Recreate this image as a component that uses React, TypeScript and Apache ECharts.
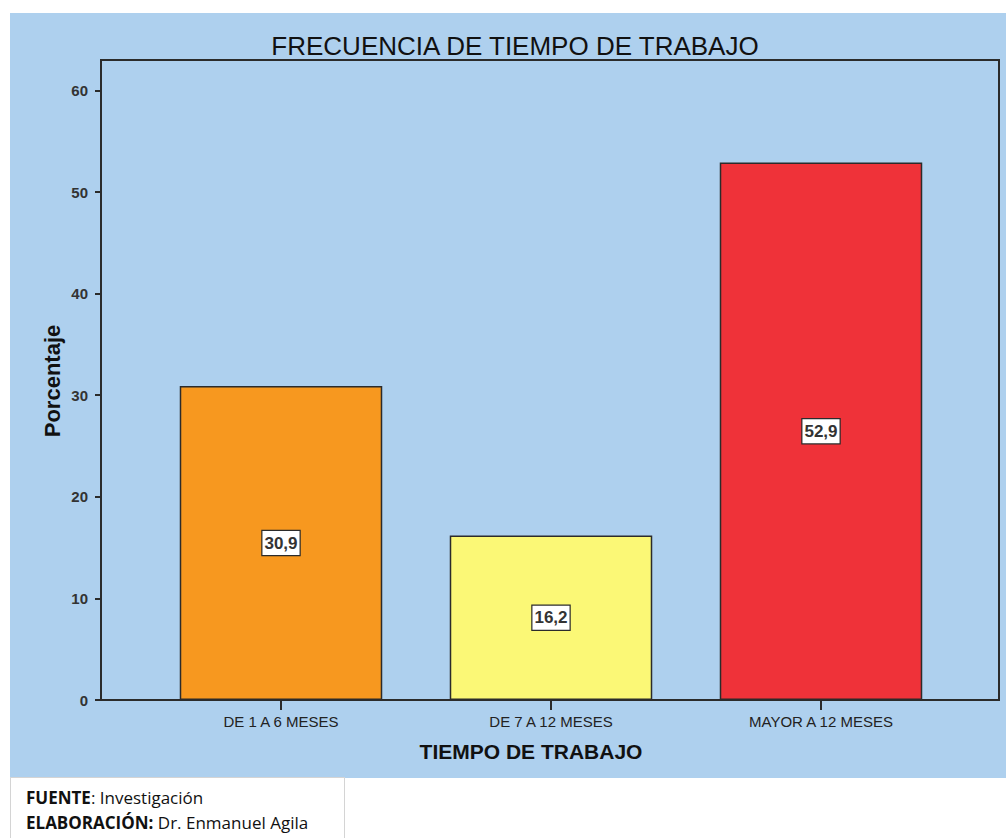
import { useEffect, useRef } from 'react';
import * as echarts from 'echarts';

const categories = ['DE 1 A 6 MESES', 'DE 7 A 12 MESES', 'MAYOR A 12 MESES'];
const percentages = [30.9, 16.2, 52.9];
const barColors = ['#F7981F', '#FBF876', '#EF3239'];
const yTicks = [0, 10, 20, 30, 40, 50, 60];
const yMax = 63;
const chartTitle = 'FRECUENCIA DE TIEMPO DE TRABAJO';
const xName = 'TIEMPO DE TRABAJO';
const yName = 'Porcentaje';
const sourceLabel = 'FUENTE';
const sourceText = 'Investigación';
const authorLabel = 'ELABORACIÓN';
const authorText = 'Dr. Enmanuel Agila';

const BG = '#AED0EE';
const DARK = '#2b2b2b';

export default function App() {
  const ref = useRef<HTMLDivElement>(null);
  useEffect(() => {
    if (!ref.current) return;
    const chart = echarts.init(ref.current, null, { renderer: 'svg' });
    const option: any = {
      animation: false,
      backgroundColor: '#ffffff',
      graphic: [
        { type: 'rect', z: -10, shape: { x: 10, y: 13, width: 996, height: 765 }, style: { fill: BG } },
        { type: 'rect', z: -10, shape: { x: 10.5, y: 777.5, width: 334, height: 70 }, style: { fill: '#ffffff', stroke: '#d4d4d4', lineWidth: 1 } },
        {
          type: 'text', z: 10, x: 515, y: 46,
          style: { text: chartTitle, font: '26px "Liberation Sans", Arial, sans-serif', fill: '#111', align: 'center', verticalAlign: 'middle' },
        },
        {
          type: 'text', z: 10, x: 531, y: 751,
          style: { text: xName, font: 'bold 21px "Liberation Sans", Arial, sans-serif', fill: '#111', align: 'center', verticalAlign: 'middle' },
        },
        {
          type: 'text', z: 10, x: 52, y: 381, rotation: Math.PI / 2,
          style: { text: yName, font: 'bold 22px "Liberation Sans", Arial, sans-serif', fill: '#111', align: 'center', verticalAlign: 'middle' },
        },
        {
          type: 'text', z: 10, x: 26, y: 797,
          style: {
            text: '{b|' + sourceLabel + '}{r|: ' + sourceText + '}',
            verticalAlign: 'middle',
            rich: {
              b: { font: 'bold 17px "Open Sans", sans-serif', fill: '#111' },
              r: { font: '17px "Open Sans", sans-serif', fill: '#111' },
            },
          },
        },
        {
          type: 'text', z: 10, x: 26, y: 822,
          style: {
            text: '{b|' + authorLabel + ':}{r| ' + authorText + '}',
            verticalAlign: 'middle',
            rich: {
              b: { font: 'bold 17px "Open Sans", sans-serif', fill: '#111' },
              r: { font: '17px "Open Sans", sans-serif', fill: '#111' },
            },
          },
        },
      ],
      grid: [
        { left: 101, top: 60, width: 898, height: 640, show: true, backgroundColor: 'transparent', borderColor: DARK, borderWidth: 2 },
        { left: 146, top: 60, width: 810, height: 640 },
      ],
      xAxis: [
        { gridIndex: 0, type: 'value', min: 0, max: 1, show: false },
        {
          gridIndex: 1, type: 'category', data: categories,
          axisLine: { show: false },
          axisTick: { show: true, alignWithLabel: true, length: 10, lineStyle: { color: DARK, width: 2 } },
          axisLabel: { color: '#222', fontSize: 15, fontFamily: '"Liberation Sans", Arial, sans-serif', margin: 14 },
        },
      ],
      yAxis: [
        {
          gridIndex: 0, type: 'value', min: 0, max: yMax,
          splitLine: { show: false },
          axisLine: { show: true, lineStyle: { color: DARK, width: 2 } },
          axisTick: { show: true, length: 6, customValues: yTicks, lineStyle: { color: DARK, width: 2 } },
          axisLabel: { customValues: yTicks, color: '#333', fontSize: 15, fontWeight: 'bold', fontFamily: '"Liberation Sans", Arial, sans-serif', margin: 13 },
        },
        { gridIndex: 1, type: 'value', min: 0, max: yMax, show: false, splitLine: { show: false } },
      ],
      series: [
        {
          type: 'bar',
          xAxisIndex: 1, yAxisIndex: 1,
          barWidth: '75%',
          data: percentages.map((v, i) => ({ value: v, itemStyle: { color: barColors[i] } })),
          itemStyle: { borderColor: DARK, borderWidth: 1.5 },
          label: {
            show: true, position: 'inside',
            formatter: (p: any) => Number(p.value).toFixed(1).replace('.', ','),
            color: '#333', fontSize: 17, fontWeight: 'bold', fontFamily: '"Liberation Sans", Arial, sans-serif',
            backgroundColor: '#ffffff', borderColor: DARK, borderWidth: 1.2, padding: [4, 2, 3, 2],
          },
        },
      ],
    };
    chart.setOption(option);
    return () => chart.dispose();
  }, []);
  return <div ref={ref} style={{ position: 'absolute', left: 0, top: 0, width: 1006, height: 838 }} />;
}
